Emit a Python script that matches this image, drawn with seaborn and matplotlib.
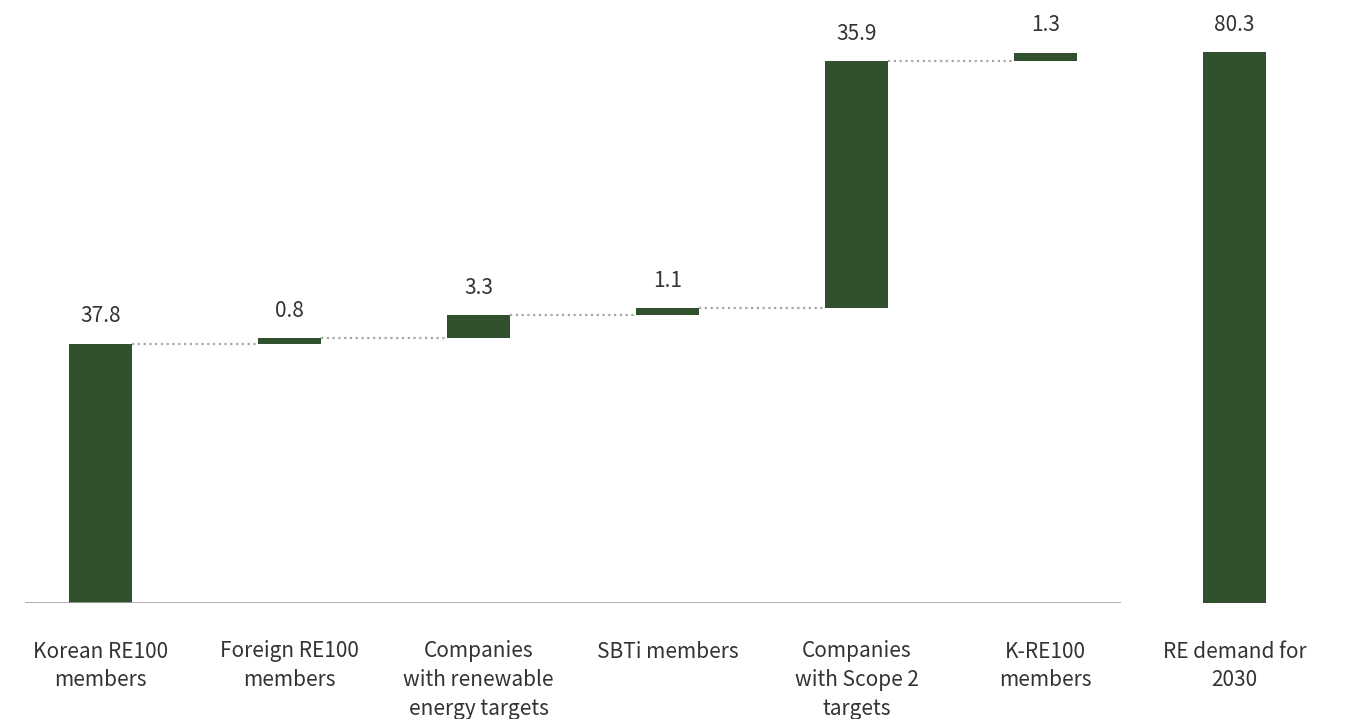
import seaborn as sns
import numpy as np
import matplotlib.pyplot as plt

# waterfall steps, values as labelled on the chart
categories = ["Korean RE100\nmembers", "Foreign RE100\nmembers",
              "Companies\nwith renewable\nenergy targets", "SBTi members",
              "Companies\nwith Scope 2\ntargets", "K-RE100\nmembers",
              "RE demand for\n2030"]
steps = [37.8, 0.8, 3.3, 1.1, 35.9, 1.3]
total = 80.3
value_labels = ["37.8", "0.8", "3.3", "1.1", "35.9", "1.3", "80.3"]

heights = steps + [total]
bottoms = list(np.concatenate([[0], np.cumsum(steps)[:-1]])) + [0]

sns.set_style("white")
plt.rcParams['font.family'] = ['Noto Sans CJK KR', 'DejaVu Sans']
plt.rcParams['font.weight'] = 'light'

green = "#31512e"
text_col = "#333333"

f = plt.figure(figsize=(13.48, 7.19), dpi=100)
ax = f.add_axes([25 / 1348, 116 / 719, 1285 / 1348, 593 / 719])

sns.barplot(x=categories, y=heights, color=green, width=0.33,
            saturation=1, ax=ax, zorder=2)
for patch, b in zip(ax.patches, bottoms):
    patch.set_y(b)
    patch.set_linewidth(0)

ax.set_xlim(-0.4, 6.4)
ax.set_ylim(0, 86.4)

# dotted connectors between consecutive steps
tops = [b + h for b, h in zip(bottoms, heights)]
for i in range(len(steps) - 1):
    ax.plot([i + 0.165, i + 1 - 0.165], [tops[i], tops[i]],
            linestyle=(0, (1, 1.6)), color="#a6a6a6", lw=1.6, zorder=1)

# value labels
for i, (t, lab) in enumerate(zip(tops, value_labels)):
    ax.annotate(lab, (i, t), xytext=(0, 19.5), textcoords="offset points",
                ha="center", va="center", fontsize=15, color=text_col,
                fontweight="light")

# baseline under the steps only
ax.hlines(0, -0.4, 5.4, color="#a0a0a0", lw=1.2, zorder=3)

sns.despine(ax=ax, left=True, bottom=True)
ax.set_yticks([])
ax.set_ylabel("")
ax.tick_params(axis="x", length=0, pad=27, labelsize=15, labelcolor=text_col)
for lab in ax.get_xticklabels():
    lab.set_linespacing(1.4)
    lab.set_va("top")
    lab.set_fontweight("light")

f.savefig("out.png", dpi=100)
